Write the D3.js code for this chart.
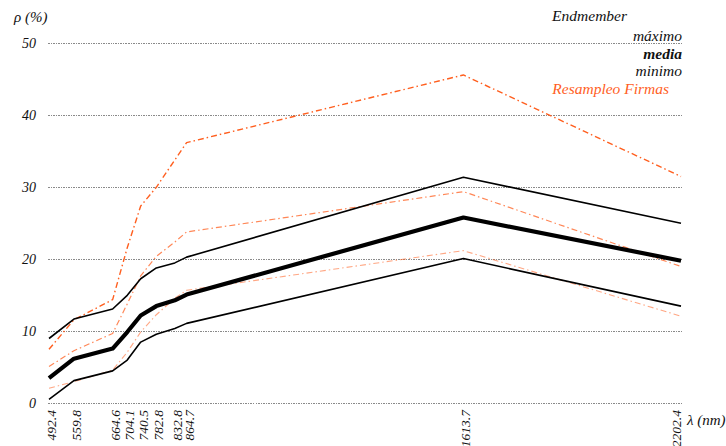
<!DOCTYPE html>
<html>
<head>
<meta charset="utf-8">
<script src="https://cdn.jsdelivr.net/npm/d3@7"></script>
<style>
  html, body { margin: 0; padding: 0; background: #fff; }
  svg { display: block; }
</style>
</head>
<body>
<svg id="chart" width="726" height="446"></svg>
<script>
// Sentinel-2 band centre wavelengths (nm)
const wavelengths = [492.4, 559.8, 664.6, 704.1, 740.5, 782.8, 832.8, 864.7, 1613.7, 2202.4];
const waveLabels = ["492.4", "559.8", "664.6", "704.1", "740.5", "782.8", "832.8", "864.7", "1613.7", "2202.4"];

// Endmember reflectance (%)
const maximo = [9.0, 11.7, 13.1, 15.0, 17.3, 18.8, 19.5, 20.3, 31.4, 25.0];
const media  = [3.5, 6.2, 7.6, 9.9, 12.2, 13.5, 14.3, 15.1, 25.8, 19.8];
const minimo = [0.55, 3.15, 4.5, 6.0, 8.5, 9.6, 10.4, 11.1, 20.1, 13.5];

// Resampled signatures (%)
const firmaA = [7.5, 11.6, 14.4, 21.6, 27.4, 30.0, 33.8, 36.2, 45.6, 31.5];
const firmaB = [5.1, 7.3, 9.7, 13.8, 17.7, 20.4, 22.4, 23.8, 29.4, 19.0];
const firmaC = [2.1, 3.0, 4.6, 7.1, 9.9, 12.3, 14.6, 15.7, 21.2, 12.1];

const yTicks = [0, 10, 20, 30, 40, 50];

const svg = d3.select("#chart");
const ink = "#111";
const serif = '"Liberation Serif", "Times New Roman", serif';
const x = d3.scaleLinear().domain([492.4, 2202.4]).range([49, 681]);
const y = d3.scaleLinear().domain([0, 50]).range([403.3, 43.3]);

// italic serif text helper
function label(sel) {
  return sel.style("font-family", serif).style("font-style", "italic").attr("fill", ink);
}

// horizontal gridlines
svg.append("g").selectAll("line").data(yTicks).join("line")
  .attr("x1", 48).attr("x2", 683)
  .attr("y1", d => y(d)).attr("y2", d => y(d))
  .attr("stroke", "#8a8a8a").attr("stroke-width", 1)
  .attr("stroke-dasharray", "1.5,1")
  .attr("shape-rendering", "crispEdges");

// y tick labels
svg.append("g").selectAll("text").data(yTicks).join("text")
  .attr("x", 36).attr("y", d => y(d) + 4.5)
  .attr("text-anchor", "end").attr("font-size", 14)
  .call(label)
  .text(d => d);

// x tick labels (rotated), kept clear of the axis title on the right
svg.append("g").selectAll("text").data(wavelengths).join("text")
  .attr("transform", d => `translate(${Math.min(x(d) + 7, 681)},410) rotate(-90)`)
  .attr("text-anchor", "end").attr("font-size", 13.5)
  .call(label)
  .text((d, i) => waveLabels[i]);

const line = d3.line().x((d, i) => x(wavelengths[i])).y(d => y(d));

const orange = "#ff5f1f";
const series = [
  { v: firmaC, stroke: orange, w: 1.1, op: 0.55, dash: "6,3,1.5,3" },
  { v: firmaB, stroke: orange, w: 1.2, op: 0.75, dash: "6,3,1.5,3" },
  { v: firmaA, stroke: orange, w: 1.4, op: 1, dash: "6,3,1.5,3" },
  { v: minimo, stroke: "#000", w: 1.6, op: 1, dash: null },
  { v: maximo, stroke: "#000", w: 1.6, op: 1, dash: null },
  { v: media,  stroke: "#000", w: 4.2, op: 1, dash: null }
];

svg.append("g").selectAll("path").data(series).join("path")
  .attr("d", d => line(d.v))
  .attr("fill", "none")
  .attr("stroke", d => d.stroke)
  .attr("stroke-width", d => d.w)
  .attr("stroke-opacity", d => d.op)
  .attr("stroke-dasharray", d => d.dash)
  .attr("stroke-linejoin", "round");

// axis titles
svg.append("text").attr("x", 14).attr("y", 22).attr("font-size", 15).call(label).text("ρ (%)");
svg.append("text").attr("x", 687).attr("y", 425).attr("font-size", 15).call(label).text("λ (nm)");

// legend
const legendItems = [
  { t: "Endmember", x: 627, y: 21, bold: false, c: ink },
  { t: "máximo", x: 682, y: 40.5, bold: false, c: ink },
  { t: "media", x: 682, y: 58.5, bold: true, c: ink },
  { t: "minimo", x: 682, y: 76, bold: false, c: ink },
  { t: "Resampleo Firmas", x: 669, y: 94, bold: false, c: orange }
];
svg.append("g").selectAll("text").data(legendItems).join("text")
  .attr("x", d => d.x).attr("y", d => d.y)
  .attr("text-anchor", "end").attr("font-size", 15.5)
  .call(label)
  .attr("fill", d => d.c)
  .attr("font-weight", d => d.bold ? "bold" : null)
  .text(d => d.t);
</script>
</body>
</html>
